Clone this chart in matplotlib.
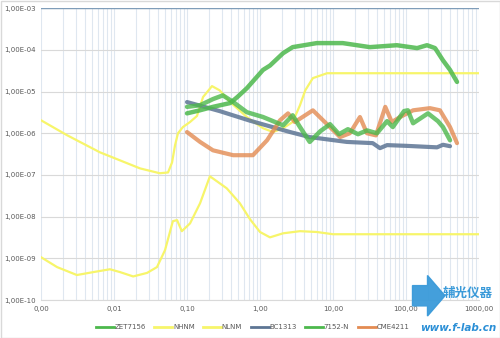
import matplotlib
matplotlib.use("Agg")
import matplotlib.pyplot as plt
from matplotlib.ticker import FixedLocator, NullFormatter, LogLocator
from matplotlib.patches import FancyArrow, Rectangle
from matplotlib.lines import Line2D

plt.rcParams['font.family'] = ['DejaVu Sans', 'Noto Sans CJK SC']

# ---------------- data ----------------
nhnm_x = [0.001, 0.00227, 0.0064, 0.0227, 0.0424, 0.055, 0.0624, 0.0685, 0.0752, 0.088, 0.110,
          0.137, 0.166, 0.22, 0.28, 0.39, 0.66, 1.1, 1.51, 2.07, 2.8, 3.53, 4.17, 5.3, 8.3, 17, 1000]
nhnm_y = [2.05e-6, 9.0e-7, 3.5e-7, 1.44e-7, 1.1e-7, 1.15e-7, 2.0e-7, 5.1e-7, 1.0e-6, 1.41e-6, 1.86e-6,
          2.6e-6, 7.4e-6, 1.35e-5, 1.07e-5, 5.6e-6, 2.45e-6, 1.32e-6, 1.07e-6, 1.32e-6, 1.86e-6, 4.7e-6,
          1.07e-5, 2.1e-5, 2.75e-5, 2.75e-5, 2.75e-5]

nlnm_x = [0.001, 0.00166, 0.0031, 0.0052, 0.0088, 0.0121, 0.0183, 0.0284, 0.0388, 0.050, 0.064, 0.073,
          0.085, 0.110, 0.151, 0.206, 0.35, 0.53, 0.73, 1.0, 1.37, 2.07, 3.53, 6.0, 10.0, 1000]
nlnm_y = [1.07e-9, 6.2e-10, 4.0e-10, 4.7e-10, 5.5e-10, 4.7e-10, 3.7e-10, 4.5e-10, 6.2e-10, 1.58e-9, 7.8e-9,
          8.3e-9, 4.5e-9, 6.9e-9, 2.1e-8, 9.3e-8, 4.8e-8, 2.1e-8, 8.7e-9, 4.3e-9, 3.2e-9, 4.0e-9, 4.5e-9,
          4.3e-9, 3.8e-9, 3.8e-9]

zet_x = [0.1, 0.15, 0.227, 0.39, 0.49, 0.66, 1.1, 1.37, 2.07, 2.8, 6.0, 13.6, 32, 75, 142, 194, 250,
         321, 401, 500]
zet_y = [3.0e-6, 3.55e-6, 4.3e-6, 5.3e-6, 7.4e-6, 1.2e-5, 3.3e-5, 4.2e-5, 8.3e-5, 1.16e-4, 1.45e-4,
         1.45e-4, 1.16e-4, 1.29e-4, 1.10e-4, 1.29e-4, 1.10e-4, 5.6e-5, 3.3e-5, 1.70e-5]

bc_x = [0.1, 0.28, 0.73, 2.58, 4.8, 15.5, 35, 44, 55, 100, 266, 321, 401]
bc_y = [5.6e-6, 3.4e-6, 2.0e-6, 1.07e-6, 8.1e-7, 6.2e-7, 5.8e-7, 4.4e-7, 5.2e-7, 5.0e-7, 4.6e-7,
        5.3e-7, 4.9e-7]

n7152_x = [0.1, 0.151, 0.227, 0.31, 0.43, 0.66, 1.1, 2.07, 2.8, 3.53, 4.8, 6.7, 9.1, 12.1, 16.0, 22.0,
           29.2, 40, 55, 66, 94, 106, 125, 200, 274, 321, 401]
n7152_y = [4.3e-6, 4.7e-6, 6.6e-6, 8.1e-6, 5.6e-6, 3.2e-6, 2.45e-6, 1.55e-6, 2.7e-6, 1.41e-6, 6.2e-7,
           1.12e-6, 1.65e-6, 9.5e-7, 1.25e-6, 9.5e-7, 1.17e-6, 1.0e-6, 1.95e-6, 1.41e-6, 3.4e-6, 3.55e-6,
           1.74e-6, 3.0e-6, 1.95e-6, 1.41e-6, 6.8e-7]

cme_x = [0.1, 0.151, 0.227, 0.43, 0.80, 1.25, 1.88, 2.42, 3.0, 5.3, 7.3, 12.5, 17, 23.4, 29.2, 38.8,
         52, 64, 83, 125, 213, 292, 401, 500]
cme_y = [1.07e-6, 6.2e-7, 3.9e-7, 2.98e-7, 2.98e-7, 6.8e-7, 2.05e-6, 3.0e-6, 1.86e-6, 3.55e-6, 2.05e-6,
         8.1e-7, 1.0e-6, 2.45e-6, 1.0e-6, 8.9e-7, 4.3e-6, 1.86e-6, 2.45e-6, 3.55e-6, 4.0e-6, 3.55e-6,
         1.41e-6, 5.8e-7]

xticks = [0.001, 0.01, 0.1, 1, 10, 100, 1000]
xtick_labels = ["0,00", "0,01", "0,10", "1,00", "10,00", "100,00", "1000,00"]
yticks = [1e-10, 1e-9, 1e-8, 1e-7, 1e-6, 1e-5, 1e-4, 1e-3]
ytick_labels = ["1,00E-10", "1,00E-09", "1,00E-08", "1,00E-07", "1,00E-06", "1,00E-05",
                "1,00E-04", "1,00E-03"]

# ---------------- figure ----------------
fig = plt.figure(figsize=(5.0, 3.38), dpi=100)
ax = fig.add_axes([0.082, 0.112, 0.876, 0.864])
ax.set_xscale('log')
ax.set_yscale('log')
ax.set_xlim(0.001, 1000)
ax.set_ylim(1e-10, 1e-3)

GREEN = '#4cb84c'
YEL = '#f7f56a'
BLUE = '#5d7594'
ORANGE = '#e38b52'

ax.plot(nlnm_x, nlnm_y, color=YEL, lw=1.6, solid_joinstyle='round', label='NLNM', zorder=3)
ax.plot(nhnm_x, nhnm_y, color=YEL, lw=1.6, solid_joinstyle='round', label='NHNM', zorder=3)
ax.plot(bc_x, bc_y, color=BLUE, lw=3.0, alpha=0.85, solid_capstyle='round',
        solid_joinstyle='round', label='BC1313', zorder=4)
ax.plot(cme_x, cme_y, color=ORANGE, lw=3.0, alpha=0.8, solid_capstyle='round',
        solid_joinstyle='round', label='CME4211', zorder=4)
ax.plot(n7152_x, n7152_y, color=GREEN, lw=3.2, alpha=0.8, solid_capstyle='round',
        solid_joinstyle='round', label='7152-N', zorder=5)
ax.plot(zet_x, zet_y, color=GREEN, lw=3.2, alpha=0.85, solid_capstyle='round',
        solid_joinstyle='round', label='ZET7156', zorder=5)

# grid
ax.xaxis.set_major_locator(FixedLocator(xticks))
ax.xaxis.set_minor_locator(LogLocator(base=10, subs=range(2, 10), numticks=50))
ax.xaxis.set_minor_formatter(NullFormatter())
ax.set_xticklabels(xtick_labels)
ax.yaxis.set_major_locator(FixedLocator(yticks))
ax.yaxis.set_minor_locator(FixedLocator([]))
ax.set_yticklabels(ytick_labels)
ax.grid(True, which='major', axis='y', color='#d9d9d9', lw=0.8)
ax.grid(True, which='both', axis='x', color='#dfe7f0', lw=0.8)
ax.axhline(1e-3, color='#7f9db9', lw=1.0, zorder=2)
ax.tick_params(axis='both', which='both', length=0, labelsize=5.0, colors='#595959', pad=4)
for s in ['top', 'right', 'left']:
    ax.spines[s].set_visible(False)
ax.spines['bottom'].set_color('#d9d9d9')

# legend
order = ['ZET7156', 'NHNM', 'NLNM', 'BC1313', '7152-N', 'CME4211']
cols = {'ZET7156': GREEN, 'NHNM': YEL, 'NLNM': YEL, 'BC1313': BLUE, '7152-N': GREEN, 'CME4211': ORANGE}
lh = [Line2D([0], [0], color=cols[k], lw=2.0) for k in order]
fig.legend(lh, order, loc='lower center', bbox_to_anchor=(0.505, 0.005), ncol=6, frameon=False,
           fontsize=5.0, handlelength=2.6, handletextpad=0.1, columnspacing=1.2,
           labelcolor='#595959')

# watermark
fig.patches.append(FancyArrow(0.825, 0.125, 0.03, 0.0, width=0.06, head_width=0.12, head_length=0.035,
                              transform=fig.transFigure, color='#3a9ad9', alpha=0.95, zorder=10))
fig.text(0.885, 0.122, '辅光仪器', family=['Noto Sans CJK SC'], fontsize=9, color='#3a9ad9',
         fontstyle='italic', fontweight='bold', zorder=11)
fig.text(0.993, 0.02, 'www.f-lab.cn', fontsize=7.5, color='#2b8fd6', fontstyle='italic',
         fontweight='bold', ha='right', zorder=11)

fig.patches.append(Rectangle((0.001, 0.001), 0.998, 0.997, transform=fig.transFigure,
                             fill=False, edgecolor='#d9d9d9', lw=1.0))

fig.savefig('out.png', dpi=100)
